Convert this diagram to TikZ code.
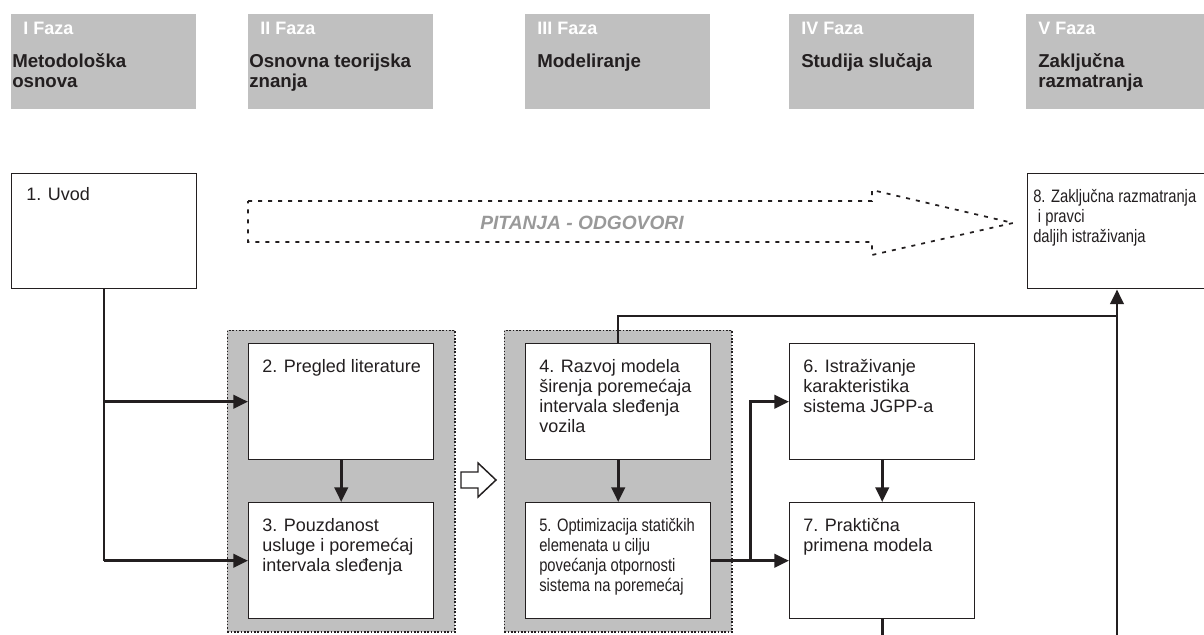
\documentclass[tikz,border=0pt]{standalone}
\usepackage{fontspec}
\setmainfont{Liberation Sans}
\newfontfamily\narrowfont[FakeStretch=0.82]{Liberation Sans}
\usetikzlibrary{arrows.meta, fit, backgrounds}
\definecolor{linec}{HTML}{231F20}
\definecolor{phasegray}{HTML}{C0C0C0}
\definecolor{askgray}{HTML}{999999}
\newcommand{\lines}[1]{\parbox[t]{220pt}{\raggedright #1}}

\begin{document}
\begin{tikzpicture}[x=0.75pt, y=-0.75pt,
  phase/.style={fill=phasegray, anchor=north west, minimum width=138.75pt, minimum height=71.25pt, inner sep=0pt},
  fazatext/.style={anchor=base west, xshift=9pt, yshift=-15.75pt, inner sep=0pt, text=white, font=\fontsize{13.5}{15}\selectfont\bfseries},
  titletext/.style={anchor=base west, xshift=#1, yshift=-40.5pt, inner sep=0pt, text=linec, font=\fontsize{14}{15}\selectfont\bfseries},
  titletext/.default=9pt,
  stage/.style={draw=linec, line width=1.1pt, fill=white, anchor=north west, minimum width=138.75pt, minimum height=87pt, inner sep=0pt},
  stagetext/.style={anchor=base west, xshift=10.5pt, yshift=-21.75pt, inner sep=0pt, text=linec, font=\fontsize{13.5}{15}\selectfont},
  narrowtext/.style={stagetext, font=\narrowfont\fontsize{13.5}{15}\selectfont},
  group/.style={fill=phasegray, draw=linec, line width=1pt, dash pattern=on 1.2pt off 1.3pt, inner xsep=15.4pt, inner ysep=9.4pt},
  conn/.style={draw=linec, line width=1.5pt},
  arrowline/.style={draw=linec, line width=2.2pt, -{Triangle[length=11pt, width=10pt]}},
]
  \useasboundingbox (0,0) rectangle (1204,635);

  % Phases
  \node[phase, label={[fazatext]north west:I Faza}, label={[titletext=0.75pt]north west:\lines{Metodološka\\osnova}}] (f1) at (11,14) {};
  \node[phase, label={[fazatext]north west:II Faza}, label={[titletext=0.75pt]north west:\lines{Osnovna teorijska\\znanja}}] (f2) at (248,14) {};
  \node[phase, label={[fazatext]north west:III Faza}, label={[titletext]north west:\lines{Modeliranje}}] (f3) at (525,14) {};
  \node[phase, label={[fazatext]north west:IV Faza}, label={[titletext]north west:\lines{Studija slučaja}}] (f4) at (789,14) {};
  \node[phase, label={[fazatext]north west:V Faza}, label={[titletext]north west:\lines{Zaključna\\razmatranja}}] (f5) at (1026,14) {};

  % Chapters
  \node[stage, minimum height=86.25pt, label={[stagetext, xshift=0.75pt, yshift=1.5pt]north west:\lines{1. Uvod}}] (s1) at (11,173) {};
  \node[stage, label={[stagetext]north west:\lines{2. Pregled literature}}] (s2) at (248,343) {};
  \node[stage, label={[stagetext]north west:\lines{3. Pouzdanost\\usluge i poremećaj\\intervala sleđenja}}] (s3) at (248,502) {};
  \node[stage, label={[stagetext]north west:\lines{4. Razvoj modela\\širenja poremećaja\\intervala sleđenja\\vozila}}] (s4) at (525,343) {};
  \node[stage, label={[narrowtext]north west:\lines{5. Optimizacija statičkih\\elemenata u cilju\\povećanja otpornosti\\sistema na poremećaj}}] (s5) at (525,502) {};
  \node[stage, label={[stagetext]north west:\lines{6. Istraživanje\\karakteristika\\sistema JGPP-a}}] (s6) at (789,343) {};
  \node[stage, label={[stagetext]north west:\lines{7. Praktična\\primena modela}}] (s7) at (789,502) {};
  \node[stage, minimum height=86.25pt, label={[narrowtext, xshift=-6pt]north west:\lines{8. Zaključna razmatranja\\\hspace*{3.5pt}i pravci\\daljih istraživanja}}] (s8) at (1027,173) {};

  % Groups
  \begin{scope}[on background layer]
    \node[group, fit=(s2)(s3)] (g1) {};
    \node[group, fit=(s4)(s5)] (g2) {};
  \end{scope}

  % Questions and answers
  \draw[draw=linec, line width=1.3pt, dash pattern=on 3pt off 4.5pt] (248,201) -- (872,201) -- (872,190) -- (1013,223) -- (872,255) -- (872,242) -- (248,242) -- cycle;
  \node[inner sep=0pt, anchor=base, text=askgray, font=\fontsize{14.4}{16}\selectfont\bfseries\itshape] (ask) at (582,229) {PITANJA - ODGOVORI};

  % Hollow arrow between groups
  \draw[draw=linec, line width=1.1pt, fill=white] (461,472) -- (478,472) -- (478,463) -- (496,480) -- (478,497) -- (478,488) -- (461,488) -- cycle;

  % Connections
  \coordinate (j1) at (s1.south |- s2.west);
  \coordinate (j2) at (s1.south |- s3.west);
  \draw[conn] (s1.south) -- (j2);
  \draw[arrowline] (j1) -- (s2.west);
  \draw[arrowline] (j2) -- (s3.west);
  \draw[arrowline] (s2) -- (s3);
  \draw[arrowline] (s4) -- (s5);
  \draw[arrowline] (s6) -- (s7);
  \path (s5.east) -- coordinate[midway] (j3) (s7.west);
  \draw[arrowline] (s5.east) -- (s7.west);
  \draw[arrowline] (j3) |- (s6.west);
  \coordinate (j4) at (1117,316);
  \draw[conn] (s4.north) |- (j4);
  \coordinate (b7) at (s7.south |- 0,640);
  \draw[conn, line width=2.2pt] (s7.south) -- (b7);
  \coordinate (b8) at (1117,640);
  \draw[arrowline] (b8) -- (b8 |- s8.south);
\end{tikzpicture}
\end{document}
